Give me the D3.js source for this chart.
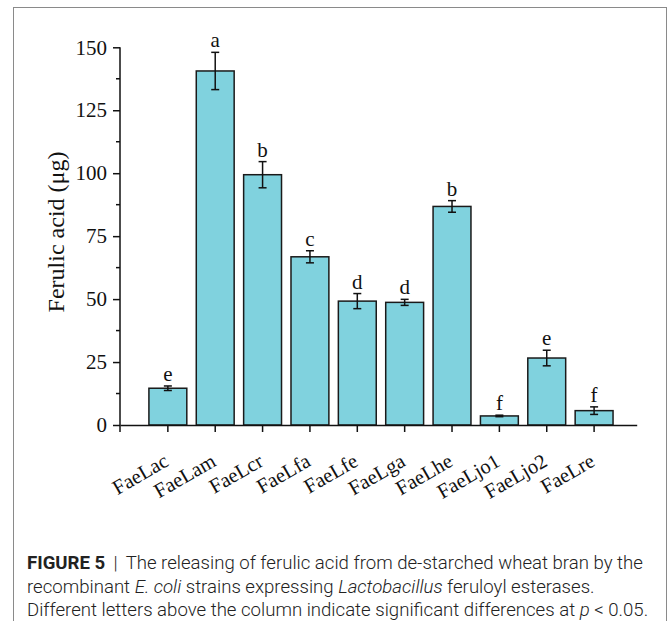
<!DOCTYPE html>
<html>
<head>
    <meta charset="utf-8">
    <title></title>
    <style>
        body { margin: 0; background: #fff; }
        .tick text { font-family: "Liberation Serif", "Times New Roman", serif; }
        .caption { font-family: Roboto, "Liberation Sans", sans-serif; font-weight: 300; font-size: 18.6px; fill: #222; }
    </style>
</head>
<body>
<script src="https://cdn.jsdelivr.net/npm/d3@7/dist/d3.min.js"></script>
<script>
    var width  = 668;
    var height = 621;

    // data
    const strains = ["FaeLac","FaeLam","FaeLcr","FaeLfa","FaeLfe","FaeLga","FaeLhe","FaeLjo1","FaeLjo2","FaeLre"];
    const ferulic = [14.6, 140.6, 99.4, 66.8, 49.2, 48.7, 86.8, 3.6, 26.6, 5.7];
    const errs    = [0.9, 7.4, 5.2, 2.4, 3.0, 1.2, 2.3, 0.3, 3.1, 1.5];
    const letters = ["e","a","b","c","d","d","b","f","e","f"];
    const yTicks  = [0, 25, 50, 75, 100, 125, 150];

    var svg = d3.select("body").append("svg")
        .attr("width", width)
        .attr("height", height);

    // outer frame
    svg.append("rect")
        .attr("x", 13.5).attr("y", 7.5)
        .attr("width", 653).attr("height", 640)
        .attr("fill", "none")
        .attr("stroke", "#8a8a8a")
        .attr("stroke-width", 1);

    var x0 = 120, x1 = 636.7;
    var y = d3.scaleLinear().domain([0, 150]).range([425, 47.3]);
    var x = d3.scaleBand().domain(strains)
        .range([x0, x1])
        .paddingInner(0.2)
        .paddingOuter(0.555)
        .align(0.55);

    // bars
    svg.append("g").selectAll("rect")
        .data(strains)
        .enter()
        .append("rect")
        .attr("x", d => x(d))
        .attr("width", x.bandwidth())
        .attr("y", (d,i) => y(ferulic[i]))
        .attr("height", (d,i) => y(0) - y(ferulic[i]))
        .attr("fill", "#80d2de")
        .attr("stroke", "#1a1a1a")
        .attr("stroke-width", 1.5);

    // error bars
    var eb = svg.append("g").attr("stroke", "#111").attr("stroke-width", 1.5);
    strains.forEach(function(d, i){
        var cx = x(d) + x.bandwidth()/2;
        var top = y(ferulic[i] + errs[i]), bot = y(ferulic[i] - errs[i]);
        eb.append("line").attr("x1", cx).attr("x2", cx).attr("y1", top).attr("y2", bot);
        eb.append("line").attr("x1", cx-4).attr("x2", cx+4).attr("y1", top).attr("y2", top);
        eb.append("line").attr("x1", cx-4).attr("x2", cx+4).attr("y1", bot).attr("y2", bot);
    });

    // significance letters
    svg.append("g").selectAll("text")
        .data(strains)
        .enter()
        .append("text")
        .attr("x", d => x(d) + x.bandwidth()/2)
        .attr("y", (d,i) => y(ferulic[i] + errs[i]) - 5)
        .attr("text-anchor", "middle")
        .attr("font-family", "Liberation Serif, serif")
        .attr("font-size", "21px")
        .attr("fill", "#111")
        .text((d,i) => letters[i]);

    // y axis
    var yAxis = d3.axisLeft(y).tickValues(yTicks).tickSize(7).tickPadding(6).tickSizeOuter(0);
    var gy = svg.append("g").attr("transform", "translate(" + x0 + ",0)").call(yAxis);
    gy.select(".domain").remove();
    gy.selectAll(".tick line").attr("stroke", "#111").attr("stroke-width", 1.5);
    gy.selectAll(".tick text").attr("font-size", "21px").attr("fill", "#111");
    // minor ticks
    gy.selectAll(".minor")
        .data(yTicks.slice(0, -1).map(v => v + 12.5))
        .enter()
        .append("line")
        .attr("class", "minor")
        .attr("x1", -4).attr("x2", 0)
        .attr("y1", d => y(d)).attr("y2", d => y(d))
        .attr("stroke", "#111").attr("stroke-width", 1.5);
    gy.append("line")
        .attr("x1", 0).attr("x2", 0)
        .attr("y1", y(0) + 7).attr("y2", y(150))
        .attr("stroke", "#111").attr("stroke-width", 1.5);

    // x axis
    var xAxis = d3.axisBottom(x).tickSize(7).tickSizeOuter(0).tickFormat("");
    var gx = svg.append("g").attr("transform", "translate(0," + y(0) + ")").call(xAxis);
    gx.select(".domain").attr("stroke", "#111").attr("stroke-width", 1.5);
    gx.selectAll(".tick line").attr("stroke", "#111").attr("stroke-width", 1.5);
    gx.selectAll(".tick").append("text")
        .attr("transform", "translate(2,40) rotate(-30)")
        .attr("text-anchor", "end")
        .attr("font-size", "20.5px")
        .attr("fill", "#111")
        .text(d => d);

    // y label
    svg.append("text")
        .attr("transform", "translate(64,232) rotate(-90)")
        .attr("text-anchor", "middle")
        .attr("font-family", "Liberation Serif, serif")
        .attr("font-size", "24px")
        .attr("fill", "#111")
        .text("Ferulic acid (\u03bcg)");

    // caption
    var cap = svg.append("g").attr("class", "caption");
    var l1 = cap.append("text").attr("x", 27).attr("y", 569);
    l1.append("tspan").attr("font-weight", 700).text("FIGURE 5");
    l1.append("tspan").text(" \u2009|\u2009 The releasing of ferulic acid from de-starched wheat bran by the");
    var l2 = cap.append("text").attr("x", 27).attr("y", 593);
    l2.append("tspan").text("recombinant ");
    l2.append("tspan").attr("font-style", "italic").text("E. coli");
    l2.append("tspan").text(" strains expressing ");
    l2.append("tspan").attr("font-style", "italic").text("Lactobacillus");
    l2.append("tspan").text(" feruloyl esterases.");
    var l3 = cap.append("text").attr("x", 27).attr("y", 616);
    l3.append("tspan").text("Different letters above the column indicate significant differences at ");
    l3.append("tspan").attr("font-style", "italic").text("p");
    l3.append("tspan").text(" < 0.05.");
</script>
</body>
</html>
